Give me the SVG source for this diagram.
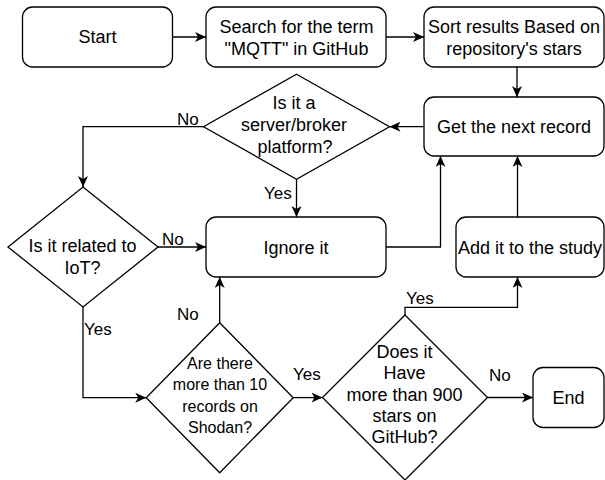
<svg xmlns="http://www.w3.org/2000/svg" width="605" height="480" viewBox="0 0 605 480">
<style>
.box{fill:#fff;stroke:#000;stroke-width:1.3}
.t{font-family:"Liberation Sans",Arial,sans-serif;font-size:18px;fill:#000;text-anchor:middle}
.s{font-size:16px}
.lbl{font-family:"Liberation Sans",Arial,sans-serif;font-size:17px;fill:#000}
.c{fill:none;stroke:#000;stroke-width:1.3;marker-end:url(#arr)}
.c0{fill:none;stroke:#000;stroke-width:1.3}
</style>
<defs>
<marker id="arr" markerUnits="userSpaceOnUse" markerWidth="12" markerHeight="12" refX="11" refY="5" orient="auto">
<path d="M0,0 L11,5 L0,10 L3,5 Z" fill="#000"/>
</marker>
</defs>
<rect width="605" height="480" fill="#fff"/>
<g id="connectors">
<path class="c" d="M172.5,37 L206,37"/>
<path class="c" d="M386,37 L424,37"/>
<path class="c" d="M517,67 L517,97"/>
<path class="c" d="M424,126.7 L389.5,126.7"/>
<path class="c" d="M203.5,126.7 L83,126.7 L83,187"/>
<path class="c" d="M296.5,179.2 L296.5,217"/>
<path class="c" d="M158,247 L206,247"/>
<path class="c" d="M83,307 L83,397.7 L146.2,397.7"/>
<path class="c" d="M219.7,322.7 L219.7,277"/>
<path class="c" d="M386,247 L440.5,247 L440.5,156"/>
<path class="c" d="M517.5,217 L517.5,156"/>
<path class="c" d="M293.2,397.6 L322.5,397.6"/>
<path class="c" d="M405,315 L405,307.3 L517.5,307.3 L517.5,277"/>
<path class="c" d="M487.5,397.5 L533,397.5"/>
<text class="lbl" x="177" y="125">No</text>
<text class="lbl" x="264" y="199">Yes</text>
<text class="lbl" x="162" y="245">No</text>
<text class="lbl" x="84" y="335">Yes</text>
<text class="lbl" x="177" y="320">No</text>
<text class="lbl" x="293" y="380">Yes</text>
<text class="lbl" x="406" y="304">Yes</text>
<text class="lbl" x="489" y="381">No</text>
</g>
<g id="start">
<rect class="box" x="22.5" y="7" width="150" height="60" rx="10"/>
<text class="t" x="97.5" y="43">Start</text>
</g>
<g id="search">
<rect class="box" x="206" y="7" width="180" height="60" rx="10"/>
<text class="t" x="296.5" y="32.5">Search for the term</text>
<text class="t" x="296.5" y="54.5">"MQTT" in GitHub</text>
</g>
<g id="sort">
<rect class="box" x="424" y="7" width="180" height="60" rx="10"/>
<text class="t" x="514" y="32.5">Sort results Based on</text>
<text class="t" x="514" y="54.5">repository's stars</text>
</g>
<g id="next">
<rect class="box" x="424" y="97" width="180" height="59" rx="10"/>
<text class="t" x="514" y="133">Get the next record</text>
</g>
<g id="broker">
<polygon class="box" points="296.5,74.2 389.5,126.7 296.5,179.2 203.5,126.7"/>
<text class="t" x="294" y="109">Is it a</text>
<text class="t" x="294" y="131">server/broker</text>
<text class="t" x="295" y="153">platform?</text>
</g>
<g id="iot">
<polygon class="box" points="83,187 158,247 83,307 8,247"/>
<text class="t" x="82.5" y="251.5">Is it related to</text>
<text class="t" x="82.5" y="273.5">IoT?</text>
</g>
<g id="ignore">
<rect class="box" x="206" y="217" width="180" height="60" rx="10"/>
<text class="t" x="296" y="253.7">Ignore it</text>
</g>
<g id="add">
<rect class="box" x="456" y="217" width="148" height="60" rx="10"/>
<text class="t" x="530" y="253.7">Add it to the study</text>
</g>
<g id="shodan">
<polygon class="box" points="219.7,322.7 293.2,397.7 219.7,472.7 146.2,397.7"/>
<text class="t s" x="220" y="368.5">Are there</text>
<text class="t s" x="220" y="390">more than 10</text>
<text class="t s" x="220" y="411.5">records on</text>
<text class="t s" x="220" y="433">Shodan?</text>
</g>
<g id="stars">
<polygon class="box" points="405,315 487.5,397.5 405,480 322.5,397.5"/>
<text class="t" x="404.5" y="358">Does it</text>
<text class="t" x="404.5" y="379.3">Have</text>
<text class="t" x="404.5" y="400.6">more than 900</text>
<text class="t" x="404.5" y="421.9">stars on</text>
<text class="t" x="404.5" y="443.2">GitHub?</text>
</g>
<g id="end">
<rect class="box" x="533" y="367.5" width="71" height="60" rx="10"/>
<text class="t" x="568.5" y="403.7">End</text>
</g>
</svg>
